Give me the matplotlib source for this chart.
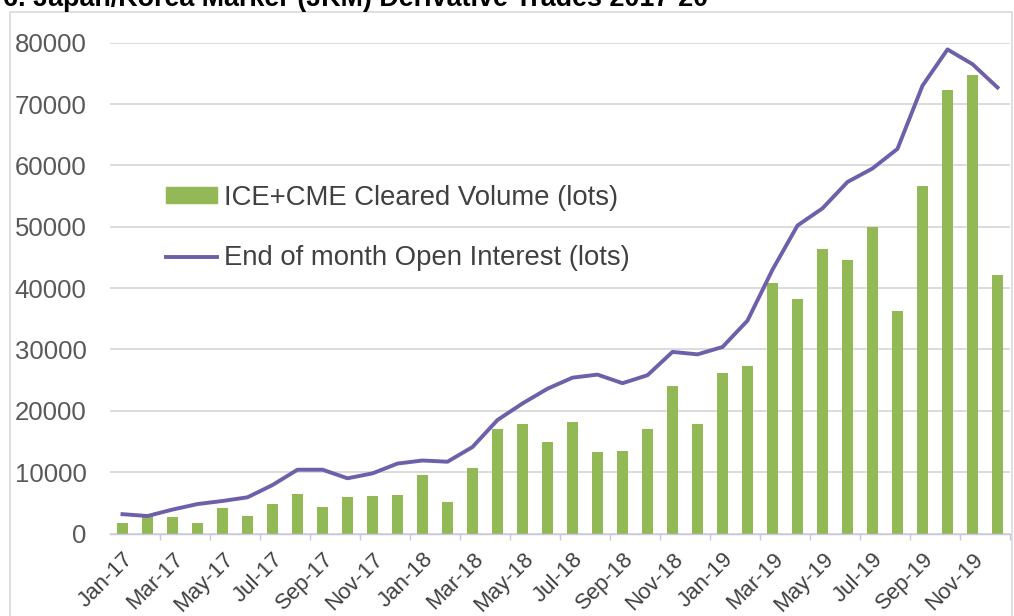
import matplotlib
matplotlib.use('Agg')
import matplotlib.pyplot as pyplot
from matplotlib.patches import Rectangle
from matplotlib.lines import Line2D

# Monthly JKM derivative activity, Jan-17 to Dec-19
months = ['Jan-17', 'Feb-17', 'Mar-17', 'Apr-17', 'May-17', 'Jun-17',
          'Jul-17', 'Aug-17', 'Sep-17', 'Oct-17', 'Nov-17', 'Dec-17',
          'Jan-18', 'Feb-18', 'Mar-18', 'Apr-18', 'May-18', 'Jun-18',
          'Jul-18', 'Aug-18', 'Sep-18', 'Oct-18', 'Nov-18', 'Dec-18',
          'Jan-19', 'Feb-19', 'Mar-19', 'Apr-19', 'May-19', 'Jun-19',
          'Jul-19', 'Aug-19', 'Sep-19', 'Oct-19', 'Nov-19', 'Dec-19']

clearedVolume = [1700, 2800, 2700, 1650, 4100, 2800, 4800, 6500, 4350, 5900, 6100, 6350,
                 9500, 5150, 10600, 17100, 17900, 14900, 18200, 13300, 13450, 17100, 24000, 17900,
                 26100, 27300, 40900, 38300, 46300, 44500, 49900, 36200, 56600, 72300, 74800, 42100]

openInterest = [3150, 2850, 3900, 4800, 5300, 5900, 7900, 10400, 10400, 9000, 9800, 11400,
                11900, 11700, 14100, 18500, 21200, 23600, 25400, 25900, 24500, 25800, 29600, 29200,
                30400, 34700, 43000, 50200, 53000, 57300, 59500, 62700, 73000, 78900, 76500, 72700]

yTicks = [0, 10000, 20000, 30000, 40000, 50000, 60000, 70000, 80000]

title = '6. Japan/Korea Marker (JKM) Derivative Trades 2017-20'
barLabel = 'ICE+CME Cleared Volume (lots)'
lineLabel = 'End of month Open Interest (lots)'

barColor = '#93B956'
lineColor = '#6E5FAA'
gridColor = '#D9D9D9'
textColor = '#595959'


def plotChart():
    pyplot.rcParams['font.family'] = ['Liberation Sans', 'DejaVu Sans']
    W, H = 1014, 616
    fig = pyplot.figure(figsize=(W / 100.0, H / 100.0), dpi=100)
    ax = fig.add_axes([110.0 / W, 1 - 533.5 / H, 900.0 / W, (533.5 - 42.7) / H])

    x = list(range(len(months)))
    ax.bar(x, clearedVolume, width=0.42, color=barColor, zorder=2)
    ax.plot(x, openInterest, color=lineColor, lw=2.8, zorder=3, solid_joinstyle='round')

    ax.set_xlim(-0.5, len(months) - 0.5)
    ax.set_ylim(0, 80000)
    ax.set_yticks(yTicks)
    ax.set_yticklabels([str(t) for t in yTicks])
    ax.yaxis.grid(True, color=gridColor, linewidth=1.3, zorder=0)
    ax.set_axisbelow(True)
    for side in ['top', 'right', 'left']:
        ax.spines[side].set_visible(False)
    ax.spines['bottom'].set_color('#CAC6E2')
    ax.spines['bottom'].set_linewidth(1.0)
    ax.tick_params(axis='y', length=0, pad=17, labelsize=18.5, labelcolor=textColor)

    # every other month is labelled, ticks sit at category boundaries
    ax.set_xticks(x[::2])
    ax.set_xticklabels(months[::2], rotation=45, ha='right', va='top',
                       rotation_mode='anchor')
    ax.tick_params(axis='x', which='major', length=0, pad=11, labelsize=16,
                   labelcolor='#404040')
    ax.set_xticks([i + 1.5 for i in range(0, len(months) - 1, 2)], minor=True)
    ax.tick_params(axis='x', which='minor', length=4, width=1, color='#CAC6E2')

    handles = [Rectangle((0, 0), 1, 1, color=barColor),
               Line2D([0], [0], color=lineColor, lw=2.8)]
    ax.legend(handles, [barLabel, lineLabel], loc='upper left',
              bbox_to_anchor=(166.0 / W, 1 - 185.0 / H), bbox_transform=fig.transFigure,
              frameon=False, fontsize=19.8, handlelength=1.85, handleheight=0.5,
              handletextpad=0.25, labelspacing=1.25, borderpad=0, borderaxespad=0,
              labelcolor='#404040')

    # chart border and clipped title
    fig.add_artist(Rectangle((10.0 / W, -0.1), 1002.0 / W, 1.1 - 12.0 / H,
                             transform=fig.transFigure, fill=False,
                             edgecolor=gridColor, linewidth=1.2))
    fig.text(3.0 / W, 1 - 6.0 / H, title, fontsize=19.4, fontweight='bold',
             color='black', ha='left', va='baseline')

    fig.savefig('out.png', dpi=100)
    pyplot.close('all')


if __name__ == '__main__':
    plotChart()
